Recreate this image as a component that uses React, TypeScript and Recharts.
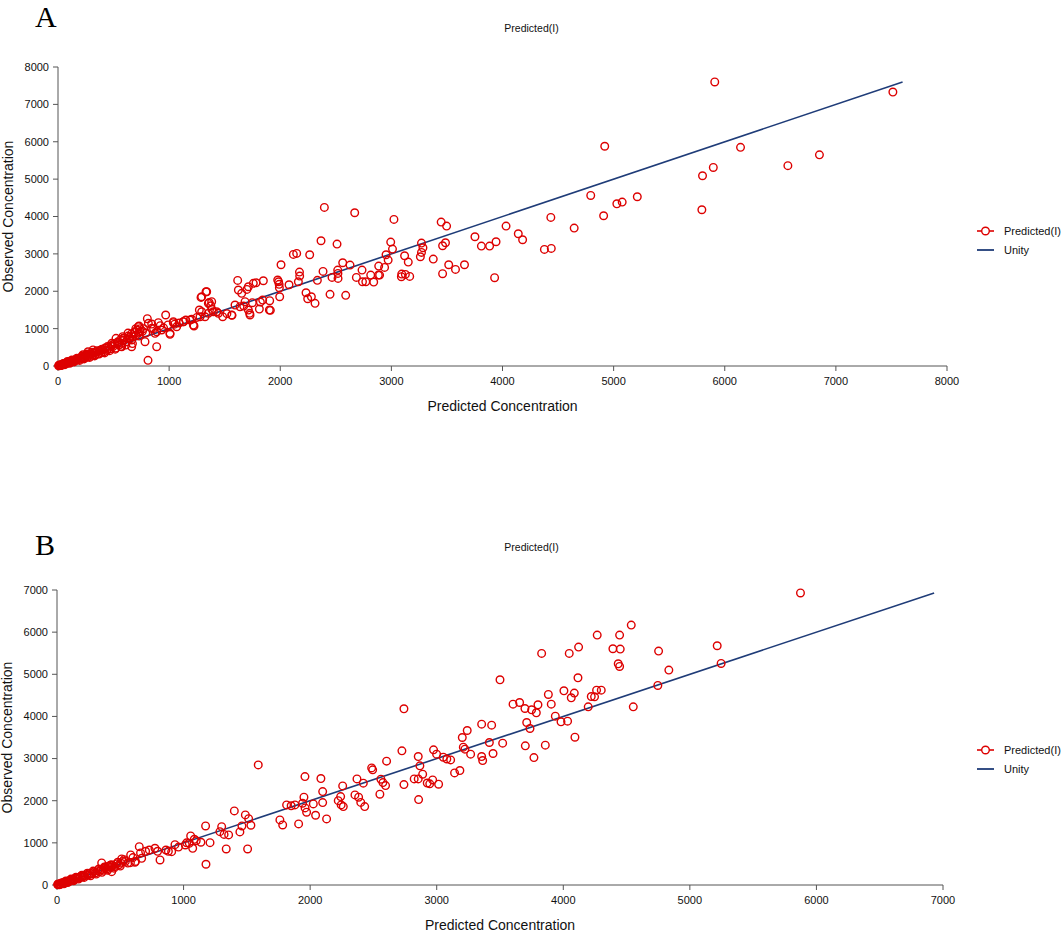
import { ScatterChart, Scatter, XAxis, YAxis, ReferenceLine } from "recharts";

// Panel A — predicted vs observed concentration
const predictedA = [
  5, 10, 15, 20, 25, 30, 35, 40, 45, 50, 55, 60, 65, 70, 75, 80, 90, 95, 100, 110,
  115, 120, 130, 140, 150, 155, 165, 175, 180, 190, 200, 210, 220, 230, 240, 250, 255, 265, 270, 280,
  290, 300, 310, 320, 335, 345, 360, 375, 390, 400, 415, 425, 440, 455, 470, 480, 495, 510, 520, 535,
  550, 560, 575, 590, 600, 615, 630, 645, 660, 675, 690, 700, 710, 725, 740, 760,
  12, 28, 48, 62, 85, 105, 125, 145, 170, 195, 215, 235, 260, 285, 305, 330, 350, 370, 395, 420,
  445, 465, 490, 515, 540, 565, 585, 610, 640, 670, 700, 730, 770, 790,
  225, 270, 315, 333, 380, 423, 483, 522, 573, 582, 630, 663, 663, 690, 738, 783, 729, 804, 810, 843,
  888, 888, 903, 969, 1008, 1038, 1068, 1128, 1203, 1224,
  723, 813, 843, 873, 933, 1008, 1038, 1128, 1188, 1218, 1278, 1293, 1323, 1353, 1398, 1443, 1293, 1338, 1353, 1383,
  1563, 1593, 1623, 1653, 1683, 1728, 1713, 1758,
  860, 920, 950, 990, 1050, 1090, 1150, 1250, 1272, 1287, 1332, 1360, 1375, 1385, 1428, 1482, 1520, 1566, 1617, 1638,
  1671, 1700, 1713, 1725, 1749, 1782, 1812, 1821, 1842, 1848, 1902, 1905, 1911, 1977, 1985, 1990, 1992, 1995, 2007, 2079,
  2118, 2148, 2163, 2173, 2175, 2232, 2247, 2265, 2280, 2313, 2334, 2367, 2385, 2397, 2448, 2466, 2511, 2517, 2519, 2520,
  2562, 2589, 2628, 2670, 2685, 2736, 2740, 2770, 2814, 2841, 2883, 2886, 2894, 2939, 2952, 2971, 2994, 3010, 3023, 3090,
  3093, 3119, 3126, 3152, 3165, 3261, 3271, 3284, 3271, 3377, 3448, 3461, 3461, 3487, 3497, 3516, 3577, 3658, 3752, 3810,
  3884, 3929, 3942, 4032, 4142, 4181, 4377, 4439, 4435, 4645, 4794, 4910, 4920, 5029, 5077, 5213, 5794, 5800, 5897, 5910,
  6142, 6568, 6852, 7513,
];
const observedA = [
  8, 15, 10, 25, 20, 35, 28, 45, 50, 40, 60, 55, 70, 80, 65, 90, 85, 100, 110, 95,
  120, 130, 125, 150, 140, 170, 160, 185, 200, 175, 210, 230, 205, 250, 220, 270, 300, 240, 280, 310,
  260, 330, 290, 350, 300, 380, 330, 400, 360, 430, 380, 470, 420, 500, 460, 540, 520, 600, 480, 640,
  560, 700, 610, 690, 750, 650, 800, 720, 860, 780, 900, 820, 960, 880, 1000, 930,
  30, 12, 70, 35, 120, 75, 160, 110, 210, 150, 260, 190, 320, 230, 370, 270, 410, 320, 450, 350,
  520, 410, 570, 450, 600, 520, 740, 560, 760, 600, 1000, 800, 1000, 880,
  300, 380, 430, 350, 420, 480, 606, 740, 516, 784, 880, 695, 516, 910, 917, 650, 1070, 1265, 152, 1123,
  917, 516, 1158, 1364, 848, 1158, 1051, 1185, 1248, 1070,
  1051, 1142, 1008, 874, 963, 874, 1185, 1185, 1230, 1096, 1318, 1452, 1318, 1409, 1452, 1409, 1853, 1987, 1676, 1720,
  1364, 1631, 2032, 1944, 1720, 1364, 2120, 2211,
  1000, 1080, 1020, 1100, 1120, 1150, 1230, 1300, 1497, 1836, 1987, 1702, 1612, 1515, 1452, 1319, 1400, 1355, 2290, 1586,
  1604, 2050, 1497, 1409, 1693, 2228, 1524, 1711, 1765, 2281, 1497, 1747, 1489, 2300, 2254, 2184, 2094, 1853, 2709, 2174,
  2986, 3012, 2254, 2513, 2406, 1960, 1800, 2976, 1853, 1676, 2291, 3351, 2531, 4243, 1917, 2371, 3262, 2567, 2478, 2344,
  2762, 1890, 2700, 4100, 2371, 2567, 2254, 2254, 2433, 2246, 2433, 2674, 2433, 2638, 2977, 2834, 3316, 3128, 3922, 2389,
  2460, 2950, 2451, 2781, 2397, 2923, 3039, 3164, 3289, 2861, 3850, 3217, 2469, 3298, 3743, 2709, 2585, 2709, 3458, 3209,
  3209, 2362, 3324, 3743, 3538, 3378, 3119, 3146, 3975, 3690, 4563, 4020, 5880, 4340, 4385, 4528, 4180, 5090, 5312, 7600,
  5850, 5360, 5650, 7330,
];
const unityMaxA = 7600;
const ticksA = [0, 1000, 2000, 3000, 4000, 5000, 6000, 7000, 8000];

// Panel B
const predictedB = [
  5, 10, 15, 20, 25, 30, 40, 45, 50, 60, 65, 75, 80, 90, 100, 105, 115, 125, 135, 145,
  155, 165, 175, 185, 200, 210, 220, 235, 250, 260, 275, 290, 305, 320, 335, 350, 365, 380, 395, 410,
  425, 440, 455, 470, 490, 505, 520,
  8, 22, 35, 55, 70, 85, 110, 130, 150, 170, 195, 215, 240, 265, 285, 310, 330, 355, 375, 400,
  430, 450, 480, 500, 530, 560, 600, 620,
  353, 380, 400, 420, 432, 511, 540, 580, 582, 616, 650, 660, 669, 700, 729, 774, 795, 814, 861, 880,
  906, 932, 960, 1014, 1024, 1045, 1056, 1072, 1085, 1100, 1137, 1174, 1177, 1209, 1287, 1301, 1320, 1337, 1356, 1401,
  1445, 1461, 1488, 1506, 1514, 1532, 1590,
  1761, 1783, 1814, 1850, 1880, 1909, 1940, 1951, 1959, 1960, 1972, 2025, 2043, 2085, 2099, 2099, 2130, 2222, 2241, 2245,
  2257, 2262, 2354, 2370, 2383, 2400, 2420, 2431, 2486, 2494, 2551, 2559, 2575, 2596, 2604, 2725, 2741, 2741, 2822, 2854,
  2854, 2857, 2867, 2889, 2925, 2945, 2968, 2975, 2999, 3015, 3052, 3080, 3110, 3141, 3183, 3202, 3210, 3223, 3241, 3268,
  3355, 3355, 3363, 3416, 3434, 3445, 3500, 3521, 3603, 3655, 3697, 3700, 3711, 3737, 3750, 3768, 3787, 3800, 3829, 3858,
  3882, 3905, 3937, 3982, 4005, 4034, 4047, 4063, 4087, 4092, 4116, 4121, 4197, 4221, 4247, 4263, 4268, 4300, 4392, 4434,
  4445, 4445, 4450, 4537, 4553, 4747, 4753, 4834, 5216, 5247, 5874,
];
const observedB = [
  10, 5, 20, 15, 30, 25, 40, 55, 45, 65, 55, 80, 70, 95, 90, 115, 110, 135, 120, 160,
  150, 180, 165, 200, 190, 230, 215, 250, 240, 280, 265, 310, 290, 340, 320, 370, 350, 400, 380, 440,
  420, 460, 440, 500, 480, 520, 560,
  25, 8, 50, 30, 95, 60, 140, 100, 185, 140, 230, 180, 280, 220, 330, 260, 380, 300, 430, 350,
  480, 400, 540, 450, 600, 520, 650, 560,
  523, 420, 440, 470, 316, 618, 560, 530, 713, 540, 910, 760, 634, 800, 831, 871, 800, 594, 831, 800,
  791, 958, 900, 950, 1000, 990, 1164, 871, 1085, 1050, 1014, 1401, 492, 1005, 1266, 1385, 1200, 855, 1188, 1758,
  1259, 1401, 1663, 855, 1575, 1418, 2850,
  1544, 1425, 1900, 1880, 1900, 1449, 1940, 2083, 2573, 1830, 1727, 1924, 1655, 2526, 2217, 1955, 1568, 2002, 2098, 1900,
  2352, 1860, 2138, 2518, 2083, 1960, 2416, 1860, 2779, 2732, 2154, 2510, 2430, 2359, 2938, 3183, 4181, 2383, 2518, 2518,
  3048, 2026, 2827, 2629, 2420, 2400, 2494, 3207, 3104, 2392, 3032, 2990, 2969, 2660, 2716, 3500, 3270, 3224, 3666, 3104,
  3816, 3048, 2953, 3381, 3793, 3120, 4869, 3365, 4291, 4331, 4188, 3302, 3856, 3713, 4157, 3024, 4086, 4276, 5495, 3318,
  4521, 4291, 4006, 3872, 4608, 3888, 5495, 4442, 4553, 3507, 4917, 5645, 4228, 4473, 4465, 4624, 5930, 4624, 5606, 5249,
  5186, 5930, 5598, 6168, 4228, 4735, 5550, 5099, 5677, 5257, 6930,
];
const unityMaxB = 6930;
const ticksB = [0, 1000, 2000, 3000, 4000, 5000, 6000, 7000];

const RED = "#dd0000";
const NAVY = "#1f3c78";
const AXIS = "#555555";
const FONT = '"Liberation Sans", Arial, sans-serif';

const toPoints = (xs: number[], ys: number[]) => xs.map((x, i) => ({ x, y: ys[i] }));

const Ring = (props: any) => {
  const { cx, cy } = props;
  if (cx == null || cy == null) return null;
  return <circle cx={cx} cy={cy} r={3.8} fill="none" stroke={RED} strokeWidth={1.4} />;
};

interface PanelProps {
  top: number;
  height: number;
  margin: { top: number; right: number; bottom: number; left: number };
  xAxisHeight: number;
  labelOffset: number;
  ticks: number[];
  data: { x: number; y: number }[];
  unityMax: number;
}

const Panel = ({ top, height, margin, xAxisHeight, labelOffset, ticks, data, unityMax }: PanelProps) => {
  const max = ticks[ticks.length - 1];
  return (
    <div style={{ position: "absolute", left: 0, top }}>
      <ScatterChart width={1063} height={height} margin={margin}>
        <XAxis
          dataKey="x"
          type="number"
          domain={[0, max]}
          ticks={ticks}
          interval={0}
          height={xAxisHeight}
          tickSize={5}
          tickMargin={6}
          stroke={AXIS}
          tick={{ fontSize: 11, fill: "#111", fontFamily: FONT }}
          label={{
            value: "Predicted Concentration",
            position: "insideBottom",
            offset: labelOffset,
            style: { fontSize: 14, fill: "#111", fontFamily: FONT },
          }}
        />
        <YAxis
          dataKey="y"
          type="number"
          domain={[0, max]}
          ticks={ticks}
          interval={0}
          width={50}
          tickSize={5}
          tickMargin={4}
          stroke={AXIS}
          tick={{ fontSize: 11, fill: "#111", fontFamily: FONT }}
          label={{
            value: "Observed Concentration",
            angle: -90,
            position: "insideLeft",
            offset: 0,
            style: { fontSize: 14, fill: "#111", fontFamily: FONT, textAnchor: "middle" },
          }}
        />
        <ReferenceLine
          segment={[
            { x: 0, y: 0 },
            { x: unityMax, y: unityMax },
          ]}
          stroke={NAVY}
          strokeWidth={1.6}
          ifOverflow="visible"
        />
        <Scatter data={data} shape={<Ring />} isAnimationActive={false} />
      </ScatterChart>
    </div>
  );
};

const LegendRows = ({ top }: { top: number }) => (
  <div style={{ position: "absolute", left: 976, top, fontFamily: FONT, fontSize: 11, color: "#111" }}>
    <div style={{ display: "flex", alignItems: "center", height: 19 }}>
      <svg width={20} height={12}>
        <line x1={1} y1={6} x2={18} y2={6} stroke={RED} strokeWidth={1.6} />
        <circle cx={9.5} cy={6} r={3.8} fill="#fff" stroke={RED} strokeWidth={1.4} />
      </svg>
      <span style={{ marginLeft: 8 }}>Predicted(I)</span>
    </div>
    <div style={{ display: "flex", alignItems: "center", height: 19 }}>
      <svg width={20} height={12}>
        <line x1={1} y1={6} x2={18} y2={6} stroke={NAVY} strokeWidth={1.8} />
      </svg>
      <span style={{ marginLeft: 8 }}>Unity</span>
    </div>
  </div>
);

const Title = ({ top }: { top: number }) => (
  <div
    style={{
      position: "absolute",
      left: 0,
      top,
      width: 1063,
      textAlign: "center",
      fontFamily: FONT,
      fontSize: 10.5,
      lineHeight: "12px",
      color: "#111",
    }}
  >
    Predicted(I)
  </div>
);

const PanelLetter = ({ top, text }: { top: number; text: string }) => (
  <div
    style={{
      position: "absolute",
      left: 35,
      top,
      fontFamily: '"Liberation Serif", "Times New Roman", serif',
      fontSize: 30,
      lineHeight: "30px",
      color: "#000",
    }}
  >
    {text}
  </div>
);

export default function App() {
  const dataA = toPoints(predictedA, observedA);
  const dataB = toPoints(predictedB, observedB);
  return (
    <div style={{ position: "absolute", left: 0, top: 0, width: 1063, height: 933, background: "#fff" }}>
      <Panel
        top={0}
        height={430}
        margin={{ top: 67, right: 116, bottom: 14, left: 8 }}
        xAxisHeight={50}
        labelOffset={5}
        ticks={ticksA}
        data={dataA}
        unityMax={unityMaxA}
      />
      <Panel
        top={520}
        height={413}
        margin={{ top: 70, right: 120, bottom: 0, left: 7 }}
        xAxisHeight={48}
        labelOffset={3}
        ticks={ticksB}
        data={dataB}
        unityMax={unityMaxB}
      />
      <PanelLetter top={2} text="A" />
      <PanelLetter top={530} text="B" />
      <Title top={22} />
      <Title top={541} />
      <LegendRows top={221} />
      <LegendRows top={740} />
    </div>
  );
}
